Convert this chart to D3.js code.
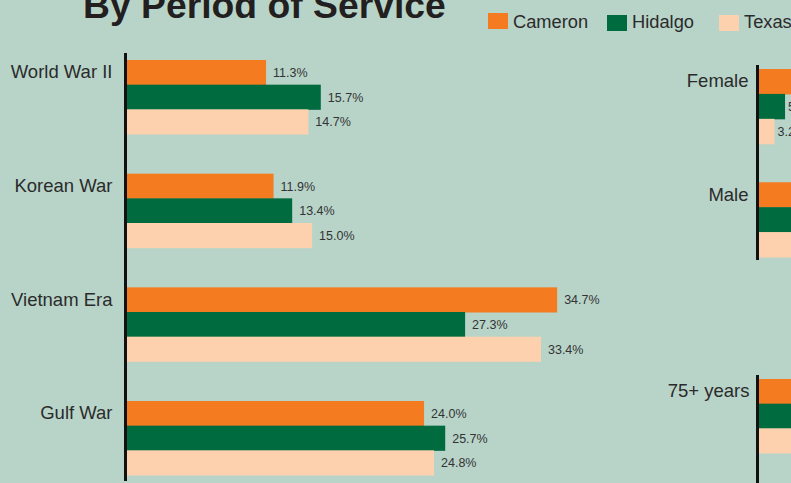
<!DOCTYPE html>
<html><head><meta charset="utf-8">
<script src="https://cdn.jsdelivr.net/npm/d3@7/dist/d3.min.js"></script>
<style>html,body{margin:0;padding:0;background:#b8d4c9;overflow:hidden}svg{display:block}</style>
</head><body><svg id="c" width="791" height="483"></svg>
<script>
const series = ["Cameron", "Hidalgo", "Texas"];
const colors = ["#f47b20", "#006b3f", "#fdd1ae"];
const periods = ["World War II", "Korean War", "Vietnam Era", "Gulf War"];
const cameronPeriod = [11.3, 11.9, 34.7, 24.0];
const hidalgoPeriod = [15.7, 13.4, 27.3, 25.7];
const texasPeriod = [14.7, 15.0, 33.4, 24.8];
const genders = ["Female", "Male"];
const cameronGender = [7.0, 93.0];
const hidalgoGender = [5.2, 94.8];
const texasGender = [3.2, 96.8];
const ages = ["75+ years"];
const cameronAge = [22.0];
const hidalgoAge = [21.0];
const texasAge = [24.0];

const svg = d3.select("#c");
const font = "Liberation Sans, Arial, sans-serif";

function panel(cats, vals, opts) {
  const g = svg.append("g");
  const y = d3.scaleBand().domain(cats).range([opts.y0, opts.y1]).paddingInner(opts.padIn).paddingOuter(0);
  const y1 = d3.scaleBand().domain(series).range([0, y.bandwidth()]);
  const x = d3.scaleLinear().domain([0, opts.max]).range([opts.x0, opts.x1]);
  cats.forEach((c, i) => {
    series.forEach((s, j) => {
      const v = vals[j][i];
      const yy = y(c) + y1(s);
      g.append("rect").attr("x", x(0)).attr("y", yy)
        .attr("width", x(v) - x(0)).attr("height", y1.bandwidth() + 0.5)
        .attr("fill", colors[j]);
      g.append("text").attr("x", x(v) + opts.valOff).attr("y", yy + y1.bandwidth() / 2 + 1.5)
        .attr("dominant-baseline", "middle").attr("font-size", 12.5)
        .attr("font-family", font).attr("fill", "#333")
        .text(v.toFixed(1) + "%");
    });
    g.append("text").attr("x", x(0) - opts.catOff).attr("y", y(c) + y1.bandwidth() / 2 + 6)
      .attr("text-anchor", "end").attr("font-size", 18.5).attr("font-family", font)
      .attr("fill", "#2b2b2b").text(c);
  });
  g.append("line").attr("x1", x(0)).attr("x2", x(0))
    .attr("y1", opts.ay0).attr("y2", opts.ay1)
    .attr("stroke", "#111").attr("stroke-width", 3);
}

panel(periods, [cameronPeriod, hidalgoPeriod, texasPeriod],
  {y0: 60, y1: 475, padIn: 0.349, x0: 125.5, x1: 125.5 + 12.44 * 40, max: 40, ay0: 53, ay1: 481, valOff: 7, catOff: 13});
panel(genders, [cameronGender, hidalgoGender, texasGender],
  {y0: 69, y1: 257, padIn: 0.34, x0: 757.5, x1: 757.5 + 530, max: 100, ay0: 65, ay1: 260, valOff: 3, catOff: 9});
panel(ages, [cameronAge, hidalgoAge, texasAge],
  {y0: 379, y1: 453, padIn: 0, x0: 757.5, x1: 757.5 + 530, max: 100, ay0: 375, ay1: 490, valOff: 3, catOff: 8});

svg.append("text").attr("x", 83).attr("y", 18).attr("font-size", 37.3)
  .attr("font-weight", "bold").attr("font-family", font).attr("fill", "#231f20")
  .text("By Period of Service");

const lg = svg.append("g");
const lx = [488, 607, 719];
series.forEach((s, i) => {
  lg.append("rect").attr("x", lx[i]).attr("y", i === 0 ? 13 : 15).attr("width", 20).attr("height", 16).attr("fill", colors[i]);
  lg.append("text").attr("x", lx[i] + 25).attr("y", 28).attr("font-size", 18.3)
    .attr("font-family", font).attr("fill", "#2b2b2b").text(s);
});
</script></body></html>
